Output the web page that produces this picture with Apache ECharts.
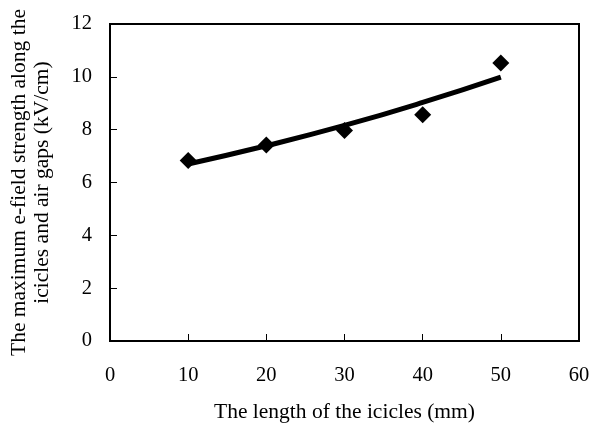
<!DOCTYPE html>
<html>
<head>
<meta charset="utf-8">
<script src="https://cdn.jsdelivr.net/npm/echarts@6/dist/echarts.min.js"></script>
<style>
html, body { margin: 0; padding: 0; background: #fff; }
#chart { width: 590px; height: 429px; }
</style>
</head>
<body>
<div id="chart"></div>
<script>
// measured points
var lengths = [10, 20, 30, 40, 50];
var fieldValues = [6.83, 7.42, 7.97, 8.56, 10.52];
// trend line
var trendValues = [6.7, 7.39, 8.16, 9.03, 9.99];
var xTicks = [0, 10, 20, 30, 40, 50, 60];
var yTicks = [0, 2, 4, 6, 8, 10, 12];

var font = 'Liberation Serif';

var myChart = echarts.init(document.getElementById('chart'));
var option = {
    animation: false,
    backgroundColor: '#fff',
    grid: {
        left: 110,
        right: 11,
        top: 24,
        bottom: 88,
        outerBoundsMode: 'none',
        show: true,
        borderColor: '#000',
        borderWidth: 2
    },
    xAxis: {
        type: 'value',
        min: xTicks[0],
        max: xTicks[xTicks.length - 1],
        interval: 10,
        name: 'The length of the icicles (mm)',
        nameLocation: 'middle',
        nameGap: 60,
        nameTextStyle: { fontFamily: font, fontSize: 21.5, color: '#000' },
        axisLine: { lineStyle: { color: '#000', width: 2 } },
        axisTick: { inside: true, length: 7, lineStyle: { color: '#000', width: 1 } },
        axisLabel: { fontFamily: font, fontSize: 20.5, color: '#000', margin: 24 },
        splitLine: { show: false }
    },
    yAxis: {
        type: 'value',
        min: yTicks[0],
        max: yTicks[yTicks.length - 1],
        interval: 2,
        name: 'The maximum e-field strength along the\nicicles and air gaps (kV/cm)',
        nameLocation: 'middle',
        nameGap: 56,
        nameTextStyle: { fontFamily: font, fontSize: 21.5, color: '#000', lineHeight: 23 },
        axisLine: { lineStyle: { color: '#000', width: 2 } },
        axisTick: { inside: true, length: 7, lineStyle: { color: '#000', width: 1 } },
        axisLabel: { fontFamily: font, fontSize: 20.5, color: '#000', margin: 18 },
        splitLine: { show: false }
    },
    series: [
        {
            name: 'measured',
            type: 'scatter',
            symbol: 'diamond',
            symbolSize: 17,
            itemStyle: { color: '#000', opacity: 1 },
            z: 2,
            data: lengths.map(function(x, i) { return [x, fieldValues[i]]; })
        },
        {
            name: 'trend',
            type: 'line',
            smooth: true,
            showSymbol: false,
            symbol: 'none',
            lineStyle: { color: '#000', width: 5 },
            z: 3,
            data: lengths.map(function(x, i) { return [x, trendValues[i]]; })
        }
    ]
};
myChart.setOption(option);
</script>
</body>
</html>
